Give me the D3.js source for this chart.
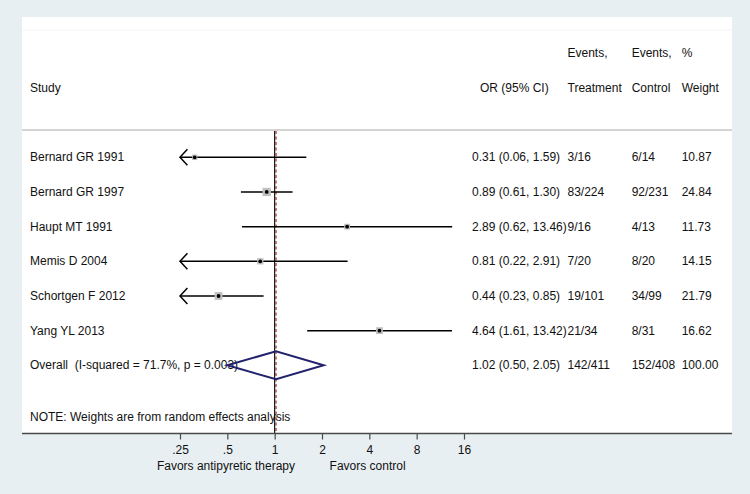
<!DOCTYPE html>
<html>
<head>
<meta charset="utf-8">
<script src="https://cdn.jsdelivr.net/npm/d3@7"></script>
<style>
  html, body { margin: 0; padding: 0; background: #e8eff2; }
  svg { display: block; }
  text { font-family: "Liberation Sans", Arial, sans-serif; font-size: 12px; fill: #111; white-space: pre; }
</style>
</head>
<body>
<svg id="chart" width="750" height="494"></svg>
<script>
// ---- data ----
const studies   = ["Bernard GR 1991", "Bernard GR 1997", "Haupt MT 1991", "Memis D 2004", "Schortgen F 2012", "Yang YL 2013"];
const oddsRatio = [0.31, 0.89, 2.89, 0.81, 0.44, 4.64];
const ciLower   = [0.06, 0.61, 0.62, 0.22, 0.23, 1.61];
const ciUpper   = [1.59, 1.30, 13.46, 2.91, 0.85, 13.42];
const eventsTreatment = ["3/16", "83/224", "9/16", "7/20", "19/101", "21/34"];
const eventsControl   = ["6/14", "92/231", "4/13", "8/20", "34/99", "8/31"];
const weights   = [10.87, 24.84, 11.73, 14.15, 21.79, 16.62];

const overallLabel = "Overall  (I-squared = 71.7%, p = 0.003)";
const overallOR = [1.02, 0.50, 2.05];          // estimate, lower, upper
const overallEvents = ["142/411", "152/408"];
const overallWeight = 100.00;

const noteText = "NOTE: Weights are from random effects analysis";
const tickValues = [0.25, 0.5, 1, 2, 4, 8, 16];
const tickLabels = [".25", ".5", "1", "2", "4", "8", "16"];
const favorsText = ["Favors antipyretic therapy", "Favors control"];
const favorsAt = [0.49, 3.9];

// ---- layout ----
const svg = d3.select("#chart");
const panel = { left: 22, right: 732, top: 17, bottom: 433.5 };

svg.append("rect").attr("width", 750).attr("height", 494).attr("fill", "#e8eff2");
svg.append("rect")
  .attr("x", panel.left).attr("y", panel.top)
  .attr("width", panel.right - panel.left).attr("height", panel.bottom - panel.top)
  .attr("fill", "#ffffff");
svg.append("line")
  .attr("x1", panel.left).attr("x2", panel.right).attr("y1", 30).attr("y2", 30)
  .attr("stroke", "#f2f4f5").attr("stroke-width", 1);

const x = d3.scaleLog().base(2).domain([0.25, 16]).range([180, 464]);
const y = d3.scaleLinear().domain([0, 1]).range([157.3, 191.97]);

const col = { study: 30, or: 472, orHead: 480, t: 567.5, c: 631.7, w: 681.7 };

// header
const hdr = svg.append("g");
function txt(g, tx, ty, s, anchor) {
  return g.append("text").attr("x", tx).attr("y", ty)
    .attr("dominant-baseline", "central")
    .attr("text-anchor", anchor || "start").text(s);
}
txt(hdr, col.t, y(-3), "Events,");
txt(hdr, col.c, y(-3), "Events,");
txt(hdr, col.w, y(-3), "%");
txt(hdr, col.study, y(-2), "Study");
txt(hdr, col.orHead, y(-2), "OR (95% CI)");
txt(hdr, col.t, y(-2), "Treatment");
txt(hdr, col.c, y(-2), "Control");
txt(hdr, col.w, y(-2), "Weight");

svg.append("line")
  .attr("x1", panel.left).attr("x2", panel.right).attr("y1", 130).attr("y2", 130)
  .attr("stroke", "#c6c6c6").attr("stroke-width", 1.5);

// reference lines
svg.append("line")
  .attr("x1", x(1)).attr("x2", x(1)).attr("y1", 131).attr("y2", panel.bottom)
  .attr("stroke", "#000").attr("stroke-width", 1.1);
svg.append("line")
  .attr("x1", x(overallOR[0])).attr("x2", x(overallOR[0])).attr("y1", 131).attr("y2", panel.bottom)
  .attr("stroke", "#9b1c1c").attr("stroke-width", 1.1).attr("stroke-dasharray", "3,2.5");

// study rows
const rows = studies.map((s, i) => ({ s, i, or: oddsRatio[i], lo: ciLower[i], hi: ciUpper[i],
  t: eventsTreatment[i], c: eventsControl[i], w: weights[i] }));
const [xmin, xmax] = x.domain();
const g = svg.append("g");

rows.forEach(d => {
  const yy = y(d.i);
  const lo = Math.max(d.lo, xmin), hi = Math.min(d.hi, xmax);
  g.append("line")
    .attr("x1", x(lo)).attr("x2", x(hi)).attr("y1", yy).attr("y2", yy)
    .attr("stroke", "#000").attr("stroke-width", 1.5);
  if (d.lo < xmin) {
    const tx = x(xmin);
    g.append("path")
      .attr("d", `M${tx + 7.4},${yy - 8}L${tx},${yy}L${tx + 7.4},${yy + 8}`)
      .attr("fill", "none").attr("stroke", "#000").attr("stroke-width", 1.5);
  }
  const side = 1.67 * Math.sqrt(d.w);
  g.append("rect")
    .attr("x", x(d.or) - side / 2).attr("y", yy - side / 2)
    .attr("width", side).attr("height", side)
    .attr("fill", "#bfbfbf");
  g.append("circle").attr("cx", x(d.or)).attr("cy", yy).attr("r", 1.9).attr("fill", "#000");

  txt(g, col.study, yy, d.s);
  txt(g, col.or, yy, `${d.or.toFixed(2)} (${d.lo.toFixed(2)}, ${d.hi.toFixed(2)})`);
  txt(g, col.t, yy, d.t);
  txt(g, col.c, yy, d.c);
  txt(g, col.w, yy, d.w.toFixed(2));
});

// overall row
const oy = y(6);
txt(g, col.study, oy, overallLabel);
txt(g, col.or, oy, `${overallOR[0].toFixed(2)} (${overallOR[1].toFixed(2)}, ${overallOR[2].toFixed(2)})`);
txt(g, col.t, oy, overallEvents[0]);
txt(g, col.c, oy, overallEvents[1]);
txt(g, col.w, oy, overallWeight.toFixed(2));
g.append("path")
  .attr("d", `M${x(overallOR[1])},${oy}L${x(overallOR[0])},${oy - 14}L${x(overallOR[2])},${oy}L${x(overallOR[0])},${oy + 14}Z`)
  .attr("fill", "none").attr("stroke", "#22226e").attr("stroke-width", 2);

txt(g, col.study, y(7.5), noteText);

// axis
svg.append("line")
  .attr("x1", panel.left).attr("x2", panel.right).attr("y1", panel.bottom).attr("y2", panel.bottom)
  .attr("stroke", "#4a4a4a").attr("stroke-width", 1.3);
const axis = d3.axisBottom(x).tickValues(tickValues)
  .tickFormat((d, i) => tickLabels[i]).tickSize(6).tickSizeOuter(0).tickPadding(6);
const ag = svg.append("g").attr("transform", `translate(0,${panel.bottom})`).call(axis);
ag.select(".domain").remove();
ag.selectAll(".tick line").attr("stroke", "#4a4a4a").attr("stroke-width", 1.2);
ag.selectAll(".tick text").attr("font-family", "Liberation Sans, Arial, sans-serif")
  .attr("font-size", 12).attr("fill", "#111");

favorsText.forEach((s, i) => {
  txt(svg, x(favorsAt[i]), 465.7, s, "middle");
});
</script>
</body>
</html>
